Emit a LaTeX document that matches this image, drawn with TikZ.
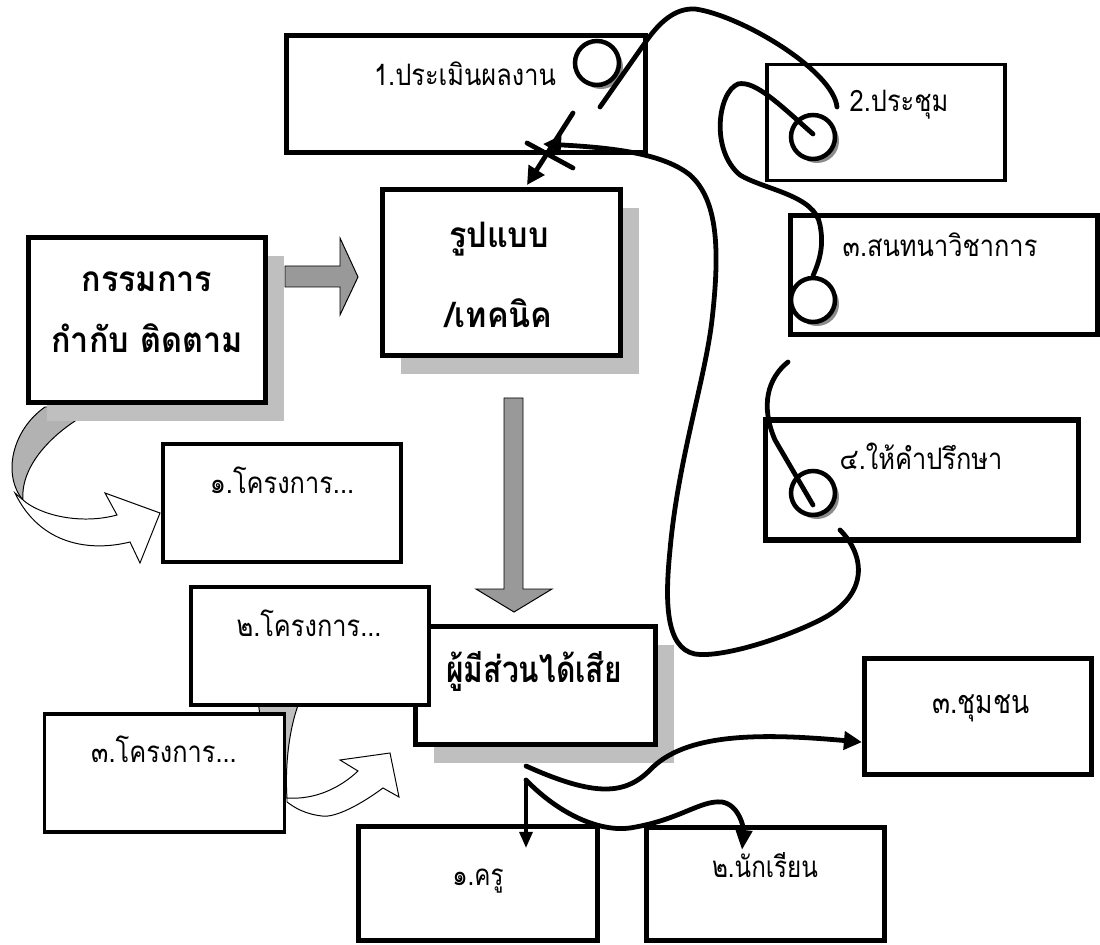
\documentclass[tikz,border=0pt]{standalone}
\usepackage{fontspec}
\newfontfamily\thai[Script=Thai,FakeStretch=0.86]{Loma}
\newfontfamily\thaiheavy[Script=Thai,FakeStretch=0.92]{Loma}
\newfontfamily\thainarrow[Script=Thai,FakeStretch=0.82]{Loma}
\usetikzlibrary{arrows.meta,shadows}

\begin{document}
\begin{tikzpicture}[
    x=0.025cm, y=-0.025cm,
    box/.style={draw, line width=3.6pt, fill=white, inner sep=0pt},
    thinbox/.style={box, line width=2.5pt},
    shade/.style={drop shadow={shadow xshift=0.47cm, shadow yshift=-0.47cm, fill=black!25, opacity=1}},
    lbl/.style={font=\thai\fontsize{21}{25}\selectfont, anchor=base, inner sep=0pt},
    lblbold/.style={lbl, font=\thaiheavy\bfseries\fontsize{25}{29}\selectfont},
    lblnarrow/.style={lbl, font=\thainarrow\fontsize{21}{25}\selectfont},
    ring/.style={circle, draw, line width=3.2pt, fill=white, minimum size=1.1cm, inner sep=0pt,
                 drop shadow={shadow xshift=0.1cm, shadow yshift=-0.1cm, fill=black!45, opacity=1}},
    curve/.style={line width=3.4pt, line cap=round},
    bigtip/.style={-{Triangle[length=0.45cm, width=0.45cm]}},
    blockarrow/.style={draw, fill=black!40, line width=0.7pt, line join=miter},
    twist/.style={draw, fill=white, line width=0.7pt}
]
\useasboundingbox (0,0) rectangle (1100,945);

% curved arrow behind the committee box
\path[twist, fill=black!30] (45,407) -- (100,407) .. controls (55,428) and (20,465) .. (23,500)
    .. controls (2,475) and (12,430) .. cycle;

% committee
\node[box, shade, minimum width=5.925cm, minimum height=4.125cm] (committee) at (147,320) {};
\node[lblbold] (committee1) at (147,292) {กรรมการ};
\node[lblbold] (committee2) at (147,353) {กำกับ ติดตาม};

% front of the curved arrow to project 1
\path[twist] (23,500) .. controls (40,515) and (80,525) .. (117,515) -- (105,493) -- (160,513)
    -- (140,563) -- (130,542) .. controls (90,552) and (40,545) .. (15,493) -- cycle;

% block arrows
\path[blockarrow] (285,266) -- (340,266) -- (340,238) -- (358,277) -- (340,315) -- (340,287) -- (285,287) -- cycle;
\path[blockarrow] (504,398) -- (523,398) -- (523,589) -- (552,589) -- (514,612) -- (476,589) -- (504,589) -- cycle;

% upper boxes
\node[box, shade, minimum width=5.95cm, minimum height=4.15cm] (style) at (501.5,272.5) {};
\node[lblbold] (style1) at (499,248) {รูปแบบ};
\node[lblbold] (style2) at (499,328) {/เทคนิค};

\node[box, minimum width=8.975cm, minimum height=2.925cm] (eval) at (466,94) {};
\node[lbl] (evaltxt) at (465,86) {1.ประเมินผลงาน};

\node[thinbox, minimum width=5.96cm, minimum height=2.89cm] (meet) at (886,122.5) {};
\node[lbl] (meettxt) at (899,112) {2.ประชุม};

\node[box, minimum width=7.675cm, minimum height=2.975cm] (talk) at (944,275) {};
\node[lbl] (talktxt) at (940,257) {๓.สนทนาวิชาการ};

\node[box, minimum width=7.8cm, minimum height=3.0cm] (advise) at (922,480) {};
\node[lbl] (advisetxt) at (921,470) {๔.ให้คำปรึกษา};

% stakeholders and projects
\node[box, shade, minimum width=6.0cm, minimum height=2.95cm] (stake) at (535.5,685.5) {};
\node[lblnarrow, font=\thainarrow\bfseries\fontsize{26}{30}\selectfont] (staketxt) at (534,682) {ผู้มีส่วนได้เสีย};

\node[thinbox, minimum width=5.96cm, minimum height=2.96cm] (proj1) at (282,503) {};
\node[lbl] (proj1txt) at (282,493) {๑.โครงการ...};

% curved arrow behind project 2
\path[twist, fill=black!25] (258,700) -- (300,700) .. controls (288,730) and (285,770) .. (287,798)
    -- (270,798) -- cycle;

\node[thinbox, minimum width=5.96cm, minimum height=2.96cm] (proj2) at (310,646) {};
\node[lbl] (proj2txt) at (309,636) {๒.โครงการ...};

\node[thinbox, minimum width=5.99cm, minimum height=2.96cm] (proj3) at (164.5,773) {};
\node[lbl] (proj3txt) at (164,762) {๓.โครงการ...};

% front of the curved arrow to the stakeholders
\path[twist] (287,798) .. controls (315,800) and (340,788) .. (358,771) -- (340,760) -- (390,753)
    -- (399,797) -- (383,788) .. controls (360,805) and (335,818) .. (322,816)
    .. controls (305,814) and (295,808) .. (287,802) -- cycle;

% lower boxes
\node[box, minimum width=5.675cm, minimum height=2.9cm] (community) at (978,716.5) {};
\node[lblnarrow, font=\thainarrow\fontsize{23}{27}\selectfont] (communitytxt) at (981,713) {๓.ชุมชน};

\node[box, minimum width=5.975cm, minimum height=2.85cm] (teacher) at (478,883.5) {};
\node[lblnarrow] (teachertxt) at (478,885) {๑.ครู};

\node[box, minimum width=5.95cm, minimum height=2.825cm] (student) at (765.5,884) {};
\node[lblnarrow] (studenttxt) at (765,877) {๒.นักเรียน};

% rings
\node[ring] (ring1) at (597,63) {};
\node[ring] (ring2) at (813,137) {};
\node[ring] (ring3) at (813,300) {};
\node[ring] (ring4) at (813,493) {};

% free ends of the curves
\coordinate (meetend) at (837,107);
\coordinate (evalend) at (527,185);
\coordinate (stakeA) at (526,766);
\coordinate (stakeB) at (526,780);
\coordinate (teacherend) at (526,848);
\coordinate (studentend) at (742,850);

% curves
\draw[curve] (meetend) .. controls (833,70) and (740,15) .. (695,9)
    .. controls (675,8) and (660,22) .. (647,40) -- (600,107);
\draw[curve, bigtip] (573,113) -- (evalend);
\draw[curve] (527,143) -- (573,168);

\draw[curve] (ring2.center) ++(0,-3) .. controls (780,105) and (755,80) .. (738,84)
    .. controls (718,92) and (710,150) .. (740,175) .. controls (765,190) and (815,195) .. (820,225)
    .. controls (824,245) and (820,260) .. (ring3.north);

\draw[curve] (788,362) .. controls (768,378) and (760,405) .. (775,440) -- ([yshift=-0.3cm]ring4.center);
\draw[curve, bigtip] (840,530) .. controls (865,555) and (870,595) .. (820,620)
    .. controls (780,640) and (720,658) .. (695,654) .. controls (665,648) and (665,600) .. (670,550)
    .. controls (678,460) and (705,380) .. (712,320) .. controls (720,250) and (718,200) .. (690,175)
    .. controls (665,155) and (620,148) .. (543,144);

\draw[curve, bigtip] (stakeA) .. controls (595,797) and (625,795) .. (650,770)
    .. controls (685,733) and (760,733) .. ([yshift=-0.64cm]community.west);
\draw[curve, -{Triangle[length=0.5cm, width=0.4cm]}] (stakeB) .. controls (560,815) and (600,832) .. (630,828)
    .. controls (680,820) and (700,800) .. (722,802) .. controls (740,805) and (744,830) .. (studentend);
\draw[line width=2.5pt, -{Triangle[length=0.4cm, width=0.32cm]}] (stakeB) -- (teacherend);
\end{tikzpicture}
\end{document}
